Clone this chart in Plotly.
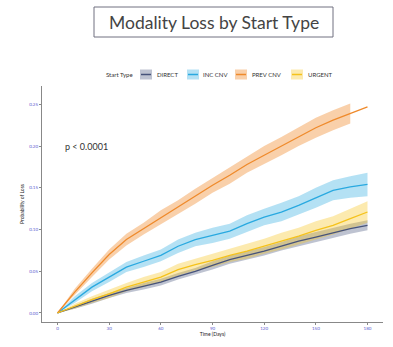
import plotly.graph_objects as go

days = [0, 10, 20, 30, 40, 50, 60, 70, 80, 90, 100, 110, 120, 130, 140, 150, 160, 170, 180]

direct = [0, 0.007, 0.014, 0.021, 0.027, 0.032, 0.037, 0.044, 0.050, 0.057, 0.064, 0.069, 0.074, 0.080, 0.086, 0.091, 0.096, 0.101, 0.105]
inc_cnv = [0, 0.016, 0.031, 0.043, 0.055, 0.062, 0.069, 0.080, 0.088, 0.093, 0.098, 0.107, 0.115, 0.121, 0.129, 0.138, 0.147, 0.151, 0.154]
prev_cnv = [0, 0.025, 0.048, 0.070, 0.088, 0.101, 0.115, 0.127, 0.140, 0.153, 0.165, 0.178, 0.189, 0.200, 0.211, 0.222, 0.231, 0.239, 0.247]
urgent = [0, 0.008, 0.016, 0.023, 0.031, 0.037, 0.043, 0.052, 0.058, 0.063, 0.069, 0.074, 0.080, 0.086, 0.092, 0.099, 0.105, 0.113, 0.121]

# confidence half-widths (None = no ribbon)
direct_hw = [0, .002, .003, .003, .003, .004, .004, .004, .004, .005, .005, .005, .005, .005, .006, .006, .006, .006, .006]
inc_hw = [0, .004, .005, .006, .006, .007, .007, .008, .008, .009, .009, .010, .010, .011, .011, .012, .012, .013, .014]
prev_hw = [0, .004, .005, .006, .007, .007, .008, .008, .009, .009, .010, .010, .011, .011, .011, .012, .012, .012, None]
urg_hw = [0, .003, .004, .005, .005, .006, .006, .007, .007, .008, .008, .009, .009, .010, .010, .011, .011, .012, .013]

legend_title = "Start Type"
names = ["DIRECT", "INC CNV", "PREV CNV", "URGENT"]
values = [direct, inc_cnv, prev_cnv, urgent]
halfwidths = [direct_hw, inc_hw, prev_hw, urg_hw]
line_colors = ["#46537a", "#29a9e0", "#ef8a2b", "#f5c21b"]
fill_colors = ["rgba(70,83,122,0.35)", "rgba(41,169,224,0.35)", "rgba(239,138,43,0.4)", "rgba(245,194,27,0.35)"]

fig = go.Figure()
for vals, hw, fill in zip(values, halfwidths, fill_colors):
    xs = [d for d, h in zip(days, hw) if h is not None]
    lo = [v - h for v, h in zip(vals, hw) if h is not None]
    hi = [v + h for v, h in zip(vals, hw) if h is not None]
    fig.add_trace(go.Scatter(x=xs + xs[::-1], y=hi + lo[::-1], fill="toself",
                             fillcolor=fill, line=dict(width=0), mode="lines",
                             showlegend=False, hoverinfo="skip"))
for name, vals, col in zip(names, values, line_colors):
    fig.add_trace(go.Scatter(x=days, y=vals, mode="lines", name=name,
                             line=dict(color=col, width=1.3), showlegend=False))

# plot domain in pixels (for placing the legend row and title above the panel)
L, R, T, B = 42, 383, 86, 322
def px_x(p):
    return (p - L) / (R - L)
def px_y(p):
    return (B - p) / (B - T)

leg_y = 74.5
key_left = [140, 187, 235, 291]
text_left = [155, 201, 250, 306]
shapes = [
    dict(type="rect", xref="paper", yref="paper",
         x0=px_x(94), x1=px_x(333), y0=px_y(37), y1=px_y(7),
         fillcolor="white", line=dict(color="#707080", width=1)),
]
annotations = [
    dict(text=legend_title, xref="paper", yref="paper", x=px_x(104), y=px_y(leg_y),
         xanchor="left", yanchor="middle", showarrow=False,
         font=dict(size=6, color="#333", family="Lato")),
]
for name, kl, tl, col, fill in zip(names, key_left, text_left, line_colors, fill_colors):
    shapes.append(dict(type="rect", xref="paper", yref="paper",
                       x0=px_x(kl), x1=px_x(kl + 12), y0=px_y(leg_y + 5), y1=px_y(leg_y - 5),
                       fillcolor=fill, line=dict(width=0)))
    shapes.append(dict(type="line", xref="paper", yref="paper",
                       x0=px_x(kl + 1), x1=px_x(kl + 11), y0=px_y(leg_y), y1=px_y(leg_y),
                       line=dict(color=col, width=1.5)))
    annotations.append(dict(text=name, xref="paper", yref="paper", x=px_x(tl), y=px_y(leg_y),
                            xanchor="left", yanchor="middle", showarrow=False,
                            font=dict(size=6, color="#333", family="Lato")))

annotations += [
    dict(text="Modality Loss by Start Type", xref="paper", yref="paper",
         x=px_x(213.5), y=px_y(22.5), xanchor="center", yanchor="middle", showarrow=False,
         font=dict(size=17.5, color="#444", family="Lato")),
    dict(text="p < 0.0001", x=17, y=0.199, xref="x", yref="y", showarrow=False,
         font=dict(size=9, color="#333", family="Lato")),
]

tick_font = dict(size=4.5, color="#5a5ad0", family="Lato")
fig.update_layout(
    width=393, height=347,
    margin=dict(l=L, r=393 - R, t=T, b=347 - B),
    paper_bgcolor="white", plot_bgcolor="white",
    font=dict(family="Lato", color="#333"),
    showlegend=False,
    xaxis=dict(range=[-9, 189], tickvals=[0, 30, 60, 90, 120, 150, 180],
               showgrid=False, zeroline=False, showline=True, linecolor="#888",
               linewidth=1, ticks="outside", ticklen=2, tickcolor="#888",
               tickfont=tick_font,
               title=dict(text="Time (Days)", font=dict(size=5, color="#222"), standoff=2)),
    yaxis=dict(range=[-0.0108, 0.272], tickvals=[0, 0.05, 0.10, 0.15, 0.20, 0.25],
               tickformat=".2f",
               showgrid=False, zeroline=False, showline=True, linecolor="#888",
               linewidth=1, ticks="outside", ticklen=2, tickcolor="#888",
               tickfont=tick_font,
               title=dict(text="Probability of Loss", font=dict(size=5, color="#222"), standoff=4)),
    shapes=shapes,
    annotations=annotations,
)

fig.write_html("out.html")
